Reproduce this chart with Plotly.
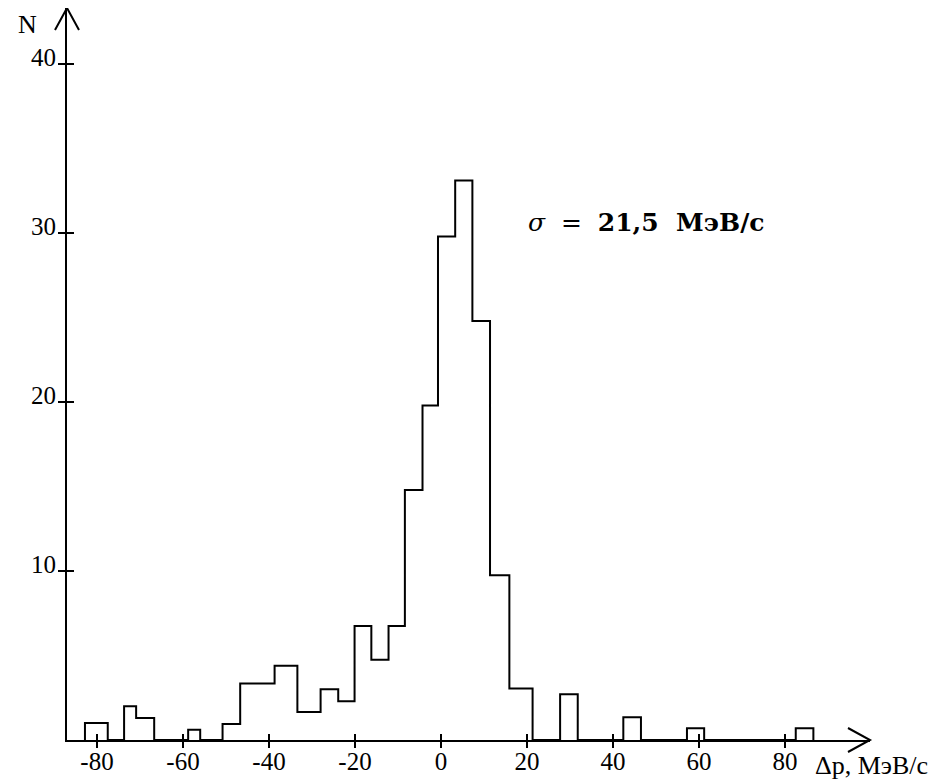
import plotly.graph_objects as go

# Histogram: bin edges (MeV/c) and heights (N)
bin_edges = [-82.8, -77.5, -73.7, -70.9, -66.7, -58.8, -56.0, -50.8, -46.7,
             -38.7, -33.4, -28.0, -23.9, -20.1, -16.2, -12.2, -8.4, -4.3,
             -0.7, 3.3, 7.3, 11.4, 15.9, 21.3, 27.7, 31.8, 42.4, 46.5,
             57.2, 61.2, 82.5, 86.6]
counts = [1.0, 0, 2.0, 1.3, 0, 0.6, 0, 0.95, 3.35, 4.4, 1.65, 3.0, 2.3,
          6.75, 4.75, 6.75, 14.8, 19.8, 29.8, 33.1, 24.8, 9.75, 3.05, 0,
          2.7, 0, 1.35, 0, 0.7, 0, 0.7]

x_ticks = [-80, -60, -40, -20, 0, 20, 40, 60, 80]
y_ticks = [10, 20, 30, 40]
sigma_text = "<i>σ</i>  =  <b>21,5  МэВ/с</b>"
x_title = "Δp, МэВ/с"
y_title = "N"

# page body has an 8px default margin: work in page pixels, then shift
OFF = 8
W, H = 939 - OFF, 782 - OFF
AXIS_X_PAGE, AXIS_Y_PAGE = 67, 740      # y-axis x, x-axis y (page px)
RIGHT_PAGE, TOP_PAGE = 870, 8           # arrow tips (page px)
ML = AXIS_X_PAGE - OFF
MT = TOP_PAGE - OFF
MB = H - (AXIS_Y_PAGE - OFF)
MR = W - (RIGHT_PAGE - OFF)
PW, PH = W - ML - MR, H - MT - MB
PX_PER_X = 4.3
PX_PER_Y = 16.9
X_ZERO_PAGE = 441
x0 = (AXIS_X_PAGE - X_ZERO_PAGE) / PX_PER_X
x1 = x0 + PW / PX_PER_X
y0 = 0
y1 = PH / PX_PER_Y

# step outline
sx = [bin_edges[0]] + bin_edges
sy = [0] + counts + [0]

fig = go.Figure()
fig.add_trace(go.Scatter(x=sx, y=sy, mode="lines", line=dict(color="black", width=2, shape="hv"),
                         showlegend=False, hoverinfo="skip"))
fig.add_trace(go.Scatter(x=[None], y=[None], xaxis="x2", yaxis="y2", mode="lines",
                         showlegend=False, hoverinfo="skip"))

tickfont = dict(family="Liberation Serif", size=25, color="black")
fig.update_layout(
    width=W, height=H,
    margin=dict(l=ML, r=MR, t=MT, b=MB, pad=0, autoexpand=False),
    paper_bgcolor="white", plot_bgcolor="white",
    xaxis=dict(range=[x0, x1], tickvals=x_ticks, ticktext=[str(v) for v in x_ticks],
               ticks="outside", ticklen=6, tickwidth=1.5, tickcolor="black",
               showline=True, linecolor="black", linewidth=2, automargin=False,
               showgrid=False, zeroline=False, tickfont=tickfont, ticklabelstandoff=-8),
    yaxis=dict(range=[y0, y1], tickvals=y_ticks, ticktext=[str(v) for v in y_ticks],
               ticks="outside", ticklen=7, tickwidth=1.5, tickcolor="black",
               showline=True, linecolor="black", linewidth=2, automargin=False,
               showgrid=False, zeroline=False, tickfont=tickfont, ticklabelstandoff=-3,
               ticklabelshift=-7),
    xaxis2=dict(overlaying="x", anchor="y", range=[x0, x1], tickvals=x_ticks,
                ticks="inside", ticklen=6, tickwidth=1.5, tickcolor="black", automargin=False,
                showticklabels=False, showline=False, showgrid=False, zeroline=False),
    yaxis2=dict(overlaying="y", anchor="x", range=[y0, y1], tickvals=y_ticks,
                ticks="inside", ticklen=7, tickwidth=1.5, tickcolor="black", automargin=False,
                showticklabels=False, showline=False, showgrid=False, zeroline=False),
)


def px2paper(px, py):
    """page pixels -> paper coordinates"""
    fx, fy = px - OFF, py - OFF
    return (fx - ML) / PW, (H - MB - fy) / PH


# arrowheads on axes (open V)
ax_a = px2paper(RIGHT_PAGE - 22, AXIS_Y_PAGE - 12)
ax_t = (1.0, 0.0)
ax_b = px2paper(RIGHT_PAGE - 22, AXIS_Y_PAGE + 12)
ay_a = px2paper(AXIS_X_PAGE - 12, TOP_PAGE + 22)
ay_t = (0.0, 1.0)
ay_b = px2paper(AXIS_X_PAGE + 12, TOP_PAGE + 22)
for a, t, b in [(ax_a, ax_t, ax_b), (ay_a, ay_t, ay_b)]:
    fig.add_shape(type="path", xref="paper", yref="paper",
                  path=f"M {a[0]} {a[1]} L {t[0]} {t[1]} L {b[0]} {b[1]}",
                  line=dict(color="black", width=2))

sx_p, sy_p = px2paper(646, 222)
fig.add_annotation(x=sx_p, y=sy_p, xref="paper", yref="paper", text=sigma_text,
                   showarrow=False, xanchor="center", yanchor="middle",
                   font=dict(family="DejaVu Serif", size=25, color="black"))
tx, ty = px2paper(813, 765)
fig.add_annotation(x=tx, y=ty, xref="paper", yref="paper", text=x_title,
                   showarrow=False, xanchor="left", yanchor="middle",
                   font=dict(family="Liberation Serif", size=26, color="black"))
nx, ny = px2paper(27, 8)
fig.add_annotation(x=nx, y=ny, xref="paper", yref="paper", text=y_title,
                   showarrow=False, xanchor="center", yanchor="top",
                   font=dict(family="Liberation Serif", size=26, color="black"))

fig.write_html("out.html")
